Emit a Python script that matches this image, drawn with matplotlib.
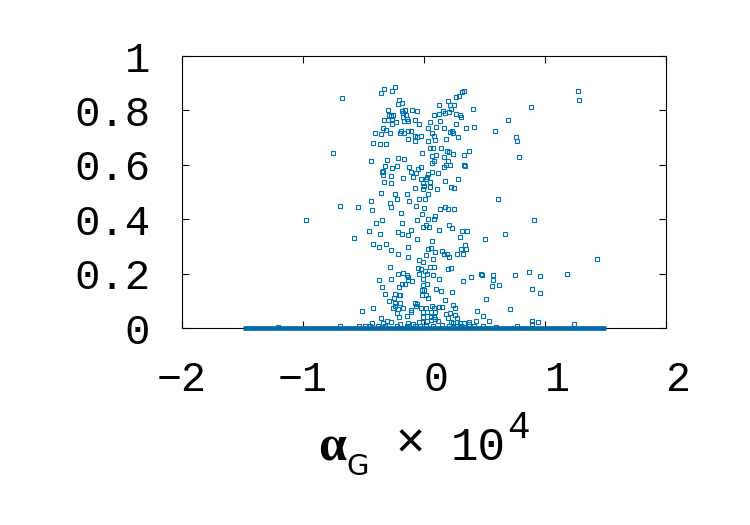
import numpy as np
import matplotlib
matplotlib.use('Agg')
import matplotlib.pyplot as plt

plt.rcParams['font.family'] = ['Liberation Mono', 'DejaVu Sans']

# central cloud, upper half
x_upper = [
    -0.242, -0.333, -0.267, -0.358, -0.680, 0.333, 0.311, 0.292, 0.264, -0.209,
    -0.218, -0.182, 0.196, 0.127, 0.215, 0.245, -0.298, -0.182, -0.160, -0.096,
    -0.061, 0.220, 0.160, 0.174, 0.207, 0.121, 0.080, 0.402, 0.264, 0.295,
    0.309, -0.270, -0.287, -0.253, -0.176, -0.152, -0.174, -0.138, -0.165, -0.135,
    -0.331, -0.298, -0.267, -0.229, -0.267, -0.072, -0.044, 0.047, 0.135, 0.262,
    0.096, 0.033, 0.163, 0.344, 0.410, -0.336, -0.317, -0.284, -0.353, -0.402,
    -0.190, -0.135, -0.105, -0.198, -0.163, -0.074, -0.061, -0.022, 0.069, 0.080,
    0.212, 0.229, 0.237, 0.281, -0.129, -0.074, 0.030, 0.088, 0.182, -0.424,
    -0.361, -0.314, -0.755, -0.019, 0.052, 0.072, 0.140, 0.187, 0.209, 0.240,
    0.369, 0.331, 0.168, 0.066, 0.096, 0.198, -0.441, -0.303, -0.212, -0.165,
    -0.325, -0.336, -0.350, -0.339, -0.264, -0.226, -0.127, -0.025, -0.052, -0.107,
    -0.091, -0.063, 0.069, 0.080, 0.185, 0.212, 0.168, 0.331, 0.336, 0.063,
    0.036, 0.116, -0.270, -0.333, -0.171, -0.025, 0.025, 0.014, 0.050, 0.281,
    0.171, -0.273, -0.011, 0.000, 0.052, -0.072, -0.008, 0.110, 0.220, 0.245,
    -0.353, -0.237, -0.143, 0.036, -0.435, -0.223, -0.127, -0.039, 0.006, -0.284,
]
y_upper = [
    0.887, 0.879, 0.873, 0.864, 0.844, 0.873, 0.866, 0.852, 0.850, 0.838,
    0.822, 0.828, 0.836, 0.819, 0.821, 0.821, 0.801, 0.799, 0.801, 0.801,
    0.798, 0.806, 0.797, 0.789, 0.793, 0.788, 0.784, 0.806, 0.786, 0.784,
    0.776, 0.781, 0.784, 0.782, 0.789, 0.784, 0.775, 0.768, 0.762, 0.762,
    0.765, 0.765, 0.768, 0.756, 0.751, 0.765, 0.751, 0.759, 0.762, 0.751,
    0.740, 0.735, 0.735, 0.737, 0.740, 0.734, 0.728, 0.716, 0.712, 0.716,
    0.725, 0.725, 0.725, 0.716, 0.716, 0.706, 0.703, 0.707, 0.716, 0.707,
    0.722, 0.725, 0.716, 0.703, 0.694, 0.689, 0.686, 0.691, 0.694, 0.679,
    0.675, 0.676, 0.642, 0.643, 0.662, 0.661, 0.662, 0.651, 0.647, 0.640,
    0.652, 0.637, 0.627, 0.632, 0.636, 0.614, 0.615, 0.619, 0.624, 0.620,
    0.597, 0.578, 0.572, 0.564, 0.589, 0.596, 0.593, 0.592, 0.586, 0.574,
    0.556, 0.569, 0.608, 0.614, 0.599, 0.600, 0.591, 0.599, 0.596, 0.575,
    0.565, 0.571, 0.559, 0.538, 0.553, 0.547, 0.554, 0.548, 0.537, 0.549,
    0.542, 0.533, 0.532, 0.522, 0.520, 0.513, 0.510, 0.512, 0.517, 0.513,
    0.498, 0.494, 0.494, 0.494, 0.468, 0.475, 0.466, 0.475, 0.474, 0.460,
]

# central cloud, lower half
x_lower = [
    -0.691, -0.548, -0.433, -0.275, -0.066, 0.003, 0.132, 0.171, 0.196, 0.245,
    -0.187, -0.019, 0.088, 0.080, 0.030, -0.058, -0.347, -0.394, -0.185, -0.011,
    0.017, 0.044, 0.124, 0.207, 0.234, 0.314, 0.353, -0.452, -0.366, -0.218,
    -0.185, -0.135, -0.105, -0.576, -0.058, 0.069, 0.295, 0.501, -0.419, -0.375,
    -0.317, -0.273, -0.129, -0.218, -0.132, 0.017, 0.033, 0.058, 0.094, 0.149,
    0.165, 0.187, 0.204, 0.273, 0.320, 0.306, 0.339, 0.347, -0.041, -0.011,
    0.074, -0.047, -0.025, 0.006, 0.025, 0.052, 0.083, 0.074, 0.121, 0.198,
    0.223, -0.284, -0.375, -0.270, -0.218, -0.176, -0.143, -0.132, -0.129, -0.096,
    -0.182, -0.160, -0.209, -0.350, -0.006, -0.041, -0.011, 0.028, 0.320, 0.391,
    0.474, 0.479, 0.096, 0.138, 0.229, -0.320, -0.242, -0.248, -0.207, -0.198,
    -0.019, 0.019, 0.033, -0.017, 0.000, 0.171, 0.515, -0.292, -0.242, -0.240,
    -0.196, -0.256, -0.218, -0.176, -0.220, -0.510, -0.419, -0.072, -0.055, -0.063,
    -0.107, -0.105, -0.022, 0.019, 0.066, 0.080, 0.127, 0.146, 0.237, 0.259,
    0.441, -0.008, 0.028, 0.055, 0.091, -0.138, -0.207, -0.358, -0.008, 0.055,
    0.085, 0.179, 0.218, 0.259, 0.270, 0.490, 0.196, -0.433, -0.342, -0.306,
    -0.273, -0.198, -0.129, -0.088, -0.041, -0.006, 0.022, 0.058, 0.094, 0.116,
    0.146, 0.220, 0.242, 0.270, 0.298, 0.369, 0.427, 0.534, 0.375, 0.333,
    -0.691, -0.537, -0.488, -0.449, -0.377, -0.322, -0.226, -0.138, -0.074, -0.033,
    0.014, 0.077, 0.204, 0.237, 0.264, 0.306, 0.375, 0.413, 0.490,
]
y_lower = [
    0.449, 0.445, 0.433, 0.445, 0.450, 0.442, 0.439, 0.446, 0.436, 0.438,
    0.423, 0.419, 0.413, 0.400, 0.401, 0.398, 0.398, 0.387, 0.387, 0.373,
    0.379, 0.371, 0.360, 0.379, 0.369, 0.358, 0.357, 0.357, 0.347, 0.354,
    0.344, 0.343, 0.362, 0.332, 0.326, 0.321, 0.336, 0.327, 0.308, 0.299,
    0.308, 0.287, 0.297, 0.272, 0.262, 0.268, 0.289, 0.295, 0.281, 0.283,
    0.272, 0.273, 0.262, 0.273, 0.272, 0.292, 0.304, 0.292, 0.250, 0.241,
    0.254, 0.219, 0.217, 0.211, 0.200, 0.224, 0.224, 0.196, 0.181, 0.218,
    0.222, 0.224, 0.176, 0.181, 0.197, 0.202, 0.195, 0.188, 0.175, 0.173,
    0.162, 0.162, 0.152, 0.151, 0.180, 0.199, 0.158, 0.161, 0.172, 0.189,
    0.199, 0.195, 0.145, 0.135, 0.132, 0.125, 0.124, 0.112, 0.120, 0.121,
    0.121, 0.123, 0.109, 0.140, 0.138, 0.102, 0.108, 0.099, 0.093, 0.082,
    0.092, 0.072, 0.070, 0.075, 0.056, 0.061, 0.075, 0.092, 0.088, 0.080,
    0.065, 0.058, 0.072, 0.074, 0.082, 0.075, 0.078, 0.076, 0.085, 0.075,
    0.061, 0.058, 0.058, 0.058, 0.058, 0.044, 0.040, 0.038, 0.039, 0.039,
    0.042, 0.051, 0.054, 0.048, 0.038, 0.043, 0.036, 0.018, 0.017, 0.026,
    0.022, 0.016, 0.017, 0.016, 0.021, 0.023, 0.025, 0.029, 0.032, 0.025,
    0.010, 0.023, 0.018, 0.023, 0.017, 0.023, 0.026, 0.027, 0.016, 0.020,
    0.006, 0.006, 0.006, 0.006, 0.006, 0.006, 0.006, 0.006, 0.006, 0.006,
    0.006, 0.006, 0.006, 0.006, 0.006, 0.006, 0.006, 0.006, 0.006,
]

# scattered points away from the cloud
x_outer = [
    -0.978, -1.209, 1.275, 1.283, 0.887, 0.697, 0.589, 0.760, 0.771, 0.785,
    0.614, 0.907, 0.669, 1.430, 0.755, 0.870, 0.956, 1.179, 0.568, 0.568,
    0.560, 0.622, 0.893, 0.959, 0.711, 0.893, 0.942, 0.893, 1.242, 0.771,
    0.595,
]
y_outer = [
    0.396, 0.005, 0.872, 0.837, 0.814, 0.766, 0.723, 0.701, 0.686, 0.630,
    0.475, 0.397, 0.347, 0.254, 0.194, 0.205, 0.191, 0.197, 0.195, 0.178,
    0.156, 0.158, 0.143, 0.128, 0.070, 0.025, 0.023, 0.014, 0.015, 0.008,
    0.005,
]

# horizontal bar at zero
bar_x = [-1.5, 1.5]
bar_y = [0, 0]

x_ticks = [-2, -1, 0, 1, 2]
x_ticklabels = ['\u22122', '\u22121', ' 0', ' 1', ' 2']
y_ticks = [0, 0.2, 0.4, 0.6, 0.8, 1]
y_ticklabels = ['0', '0.2', '0.4', '0.6', '0.8', '1']

blue = '#0072b2'

x_all = np.array(x_upper + x_lower + x_outer)
y_all = np.array(y_upper + y_lower + y_outer)

fig = plt.figure(figsize=(7.5, 5.25), dpi=100)
ax = fig.add_axes([0.2427, 0.3752, 0.6453, 0.5181])

ax.plot(x_all, y_all, 's', ms=3.2, mfc='none', mec=blue, mew=0.8)
ax.plot(bar_x, bar_y, '-', color='#0569a8', lw=3.4, solid_capstyle='butt',
        clip_on=False, zorder=3)

ax.set_xlim(-2, 2)
ax.set_ylim(0, 1)
ax.set_xticks(x_ticks)
ax.set_xticklabels(x_ticklabels)
ax.set_yticks(y_ticks)
ax.set_yticklabels(y_ticklabels)
ax.tick_params(direction='in', top=True, right=True, length=5, width=0.8)
ax.tick_params(axis='x', labelsize=30, pad=23)
ax.tick_params(axis='y', labelsize=30.5, pad=23)
for s in ax.spines.values():
    s.set_linewidth(0.8)

# x label: alpha_G x 10^4, pieced together
fig.text(0.4433, 0.1238, '\u03b1', family='Liberation Serif', fontsize=36,
         fontweight='bold', ha='center', va='baseline')
fig.text(0.4773, 0.0952, 'G', family='DejaVu Sans', fontsize=21,
         ha='center', va='baseline')
fig.text(0.5467, 0.1524, '\u00d7', family='Liberation Sans', fontsize=36,
         ha='center', va='center')
fig.text(0.638, 0.1238, '10', fontsize=33, ha='center', va='baseline')
fig.text(0.6913, 0.1657, '4', fontsize=27, ha='center', va='baseline')

fig.savefig('out.png', dpi=100)
